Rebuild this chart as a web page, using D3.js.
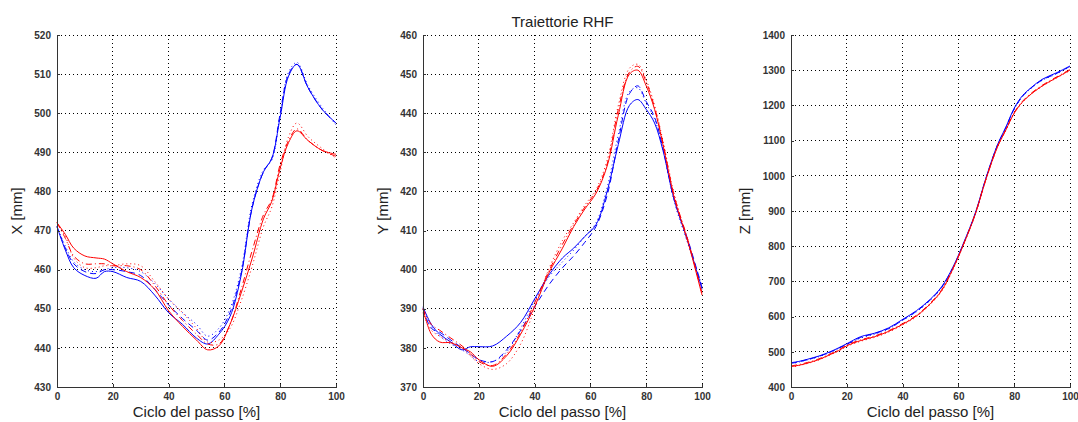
<!DOCTYPE html>
<html>
<head>
<meta charset="utf-8">
<script src="https://cdn.jsdelivr.net/npm/d3@7"></script>
<style>
  body { margin: 0; background: #fff; }
  svg { display: block; }
  .tick text { font-family: "Liberation Sans", Arial, sans-serif; font-size: 10px; font-weight: bold; fill: #333; }
  .axis-label, .title { font-family: "Liberation Sans", Arial, sans-serif; font-size: 15px; fill: #222; }
</style>
</head>
<body>
<svg width="1078" height="422"></svg>
<script>
// percentuale del ciclo del passo (campioni comuni a tutte le curve)
var pct = [0, 3, 6, 10, 14, 17, 20, 25, 30, 35, 40, 45, 50, 54, 58, 62, 66, 70, 74, 77, 80, 83, 86, 90, 95, 100];

// X [mm]
var xBlueSolid = [471, 465, 460.5, 458.5, 457.8, 459.5, 459.5, 458, 457, 453.5, 449, 446, 442.5, 441, 443.5, 448, 458.5, 476, 485, 488.5, 499, 509.5, 512.5, 506.5, 501, 497.5];
var xBlueDash  = [471, 465.5, 461.5, 459.5, 459, 460, 460, 459.5, 458.5, 455, 451, 447.5, 444.5, 442, 444, 449, 459, 476, 485, 488.5, 500, 510, 512.5, 506.5, 501, 497.5];
var xBlueDot   = [471, 466, 462, 460, 459.5, 460, 460.5, 460.5, 459.5, 456.5, 452.5, 449, 446, 443, 445, 450, 460, 477, 485.5, 488, 500, 510.5, 513, 507, 501.5, 497];
var xRedSolid  = [472, 469, 465.5, 463.5, 463, 462.7, 461.5, 459.5, 458, 455, 449.5, 445.5, 442, 439.5, 440.5, 446, 454, 463, 473, 477.5, 486, 492.5, 495.5, 493, 490.5, 489.5];
var xRedDash   = [472, 468, 463.5, 461.5, 461.5, 461.5, 461, 461, 460, 456, 451, 447, 443.5, 441, 441, 446, 455, 465, 474, 478, 487, 493, 496, 493, 490.5, 489];
var xRedDot    = [472, 468.5, 463, 460.5, 460.5, 461, 461, 461.5, 461, 457, 452.5, 449, 445, 441.5, 442, 445, 452, 461, 471, 476, 485, 494, 497.5, 494, 491, 488.5];

// Y [mm]
var yBlueSolid = [390.5, 386, 383.5, 381.5, 379.5, 380.3, 380.3, 380.5, 383, 386.5, 392.5, 398.5, 403, 405.5, 408.5, 411.5, 420, 432, 442, 443.5, 441, 437.5, 430.5, 418, 407, 395];
var yBlueDash  = [390, 385, 384, 382, 380, 378.5, 377, 376.5, 379.5, 384.5, 390.5, 396, 400.5, 403.5, 407, 411, 419, 433, 445, 447, 443, 439, 431, 418, 407.5, 395.5];
var yBlueDot   = [390, 385.5, 383, 381, 379.5, 378, 376.5, 376.5, 379, 385, 392, 398, 402, 405, 408.5, 412, 421, 434.5, 445.5, 446.5, 442.5, 438.5, 431, 417.5, 406.5, 396];
var yRedSolid  = [390, 383.5, 381.5, 381.3, 380, 379, 377, 375.3, 378, 383.5, 390.5, 399, 405.5, 411, 415.5, 419.5, 426.5, 439.5, 450, 451, 447, 441, 432, 418.5, 407, 393.5];
var yRedDash   = [390, 386, 384.5, 382.5, 380.5, 378.5, 376.5, 375.5, 378.5, 384, 391.5, 399.5, 406.5, 411.5, 416, 420, 427, 441, 450.5, 452, 448, 441.5, 432.5, 419, 407.5, 394];
var yRedDot    = [389, 384.5, 383, 381.5, 380, 378, 376, 374.5, 376, 381, 390, 400, 407.5, 412, 416.5, 420.5, 428, 442, 451.5, 452.5, 448.5, 442, 433, 419.5, 407, 394];

// Z [mm]
var zBlueSolid = [469, 473, 479, 488, 500, 511, 523, 543, 553, 568, 592, 617, 650, 685, 740, 812, 893, 997, 1088, 1138, 1192, 1228, 1250, 1274, 1292, 1312];
var zBlueDash  = [467, 472, 478, 487, 499, 510, 521, 541, 552, 566, 590, 615, 648, 683, 738, 810, 891, 996, 1087, 1137, 1190, 1226, 1249, 1272, 1290, 1311];
var zBlueDot   = [466, 471, 477, 486, 498, 509, 520, 539, 550, 565, 589, 614, 647, 682, 737, 809, 890, 995, 1086, 1136, 1189, 1225, 1248, 1271, 1289, 1310];
var zRedSolid  = [458, 462, 468, 478, 492, 503, 517, 532, 543, 558, 578, 602, 637, 674, 735, 808, 890, 993, 1082, 1130, 1178, 1210, 1232, 1255, 1278, 1300];
var zRedDash   = [460, 464, 470, 480, 494, 505, 519, 534, 545, 560, 580, 604, 639, 676, 736, 809, 891, 994, 1083, 1131, 1180, 1212, 1234, 1257, 1280, 1302];
var zRedDot    = [456, 461, 467, 477, 491, 502, 515, 530, 541, 556, 576, 600, 635, 672, 733, 807, 889, 992, 1081, 1129, 1177, 1209, 1231, 1254, 1277, 1299];

var xTicks = [0, 20, 40, 60, 80, 100];
var panelNames = ['X [mm]', 'Y [mm]', 'Z [mm]'];
var panelDomains = [[430, 520], [370, 460], [400, 1400]];
var panelTicks = [
  [430, 440, 450, 460, 470, 480, 490, 500, 510, 520],
  [370, 380, 390, 400, 410, 420, 430, 440, 450, 460],
  [400, 500, 600, 700, 800, 900, 1000, 1100, 1200, 1300, 1400]
];
var panelSeries = [
  [xBlueSolid, xBlueDash, xBlueDot, xRedSolid, xRedDash, xRedDot],
  [yBlueSolid, yBlueDash, yBlueDot, yRedSolid, yRedDash, yRedDot],
  [zBlueSolid, zBlueDash, zBlueDot, zRedSolid, zRedDash, zRedDot]
];
var titleText = 'Traiettorie RHF';
var xLabelText = 'Ciclo del passo [%]';

// stili delle sei curve: blu (-, --, :) e rosso (-, -., :)
var lineStyles = [
  { color: '#0000ff', dash: null },
  { color: '#0000ff', dash: '6,4' },
  { color: '#0000ff', dash: '1,3' },
  { color: '#ff0000', dash: null },
  { color: '#ff0000', dash: '6,3,1,3' },
  { color: '#ff0000', dash: '1,3' }
];

var svg = d3.select('svg');
var panelLeft = [57, 423, 791];
var plotWidth = 279;
var plotTop = 35;
var plotBottom = 387;

panelLeft.forEach(function (left, p) {
  var g = svg.append('g').attr('transform', 'translate(' + left + ',0)');

  var xScale = d3.scaleLinear().domain([0, 100]).range([0, plotWidth]);
  var yScale = d3.scaleLinear().domain(panelDomains[p]).range([plotBottom, plotTop]);

  // griglia punteggiata
  g.append('g').selectAll('line').data(xTicks.slice(1)).enter().append('line')
    .attr('x1', d => xScale(d)).attr('x2', d => xScale(d))
    .attr('y1', plotTop).attr('y2', plotBottom)
    .attr('stroke', '#000').attr('stroke-width', 1).attr('stroke-dasharray', '1,3')
    .attr('shape-rendering', 'crispEdges');
  g.append('g').selectAll('line').data(panelTicks[p].slice(1)).enter().append('line')
    .attr('x1', 0).attr('x2', plotWidth)
    .attr('y1', d => yScale(d)).attr('y2', d => yScale(d))
    .attr('stroke', '#000').attr('stroke-width', 1).attr('stroke-dasharray', '1,3')
    .attr('shape-rendering', 'crispEdges');

  var line = d3.line()
    .x((d, i) => xScale(pct[i]))
    .y(d => yScale(d))
    .curve(d3.curveCatmullRom);

  panelSeries[p].forEach(function (values, s) {
    g.append('path').datum(values)
      .attr('fill', 'none')
      .attr('stroke', lineStyles[s].color)
      .attr('stroke-width', 1)
      .attr('stroke-dasharray', lineStyles[s].dash)
      .attr('d', line);
  });

  var xAxis = d3.axisBottom(xScale).tickValues(xTicks).tickSizeInner(-3).tickSizeOuter(0).tickPadding(6);
  var yAxis = d3.axisLeft(yScale).tickValues(panelTicks[p]).tickFormat(d3.format('d'))
    .tickSizeInner(-3).tickSizeOuter(0).tickPadding(6);

  g.append('g').attr('transform', 'translate(0,' + plotBottom + ')').call(xAxis)
    .call(a => a.selectAll('path, line').attr('stroke', '#333').attr('shape-rendering', 'crispEdges'))
    .call(a => a.selectAll('text').attr('font-family', null).attr('font-size', null));
  g.append('g').call(yAxis)
    .call(a => a.selectAll('path, line').attr('stroke', '#333').attr('shape-rendering', 'crispEdges'))
    .call(a => a.selectAll('text').attr('font-family', null).attr('font-size', null));

  g.append('text').attr('class', 'axis-label')
    .attr('x', plotWidth / 2).attr('y', 417)
    .attr('text-anchor', 'middle')
    .text(xLabelText);

  g.append('text').attr('class', 'axis-label')
    .attr('transform', 'rotate(-90)')
    .attr('x', -(plotTop + plotBottom) / 2).attr('y', p === 2 ? -41 : -35)
    .attr('text-anchor', 'middle')
    .text(panelNames[p]);

  if (p === 1) {
    g.append('text').attr('class', 'title')
      .attr('x', plotWidth / 2).attr('y', 27)
      .attr('text-anchor', 'middle')
      .text(titleText);
  }
});
</script>
</body>
</html>
